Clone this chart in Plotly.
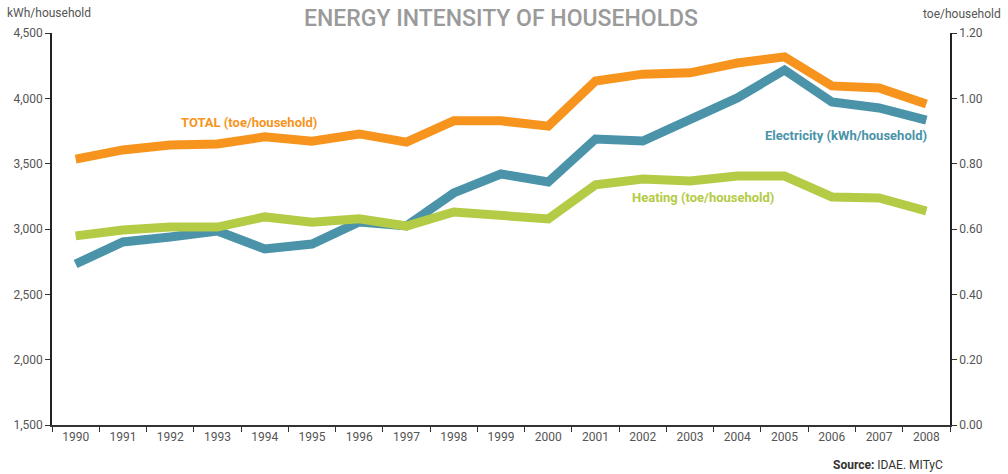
import plotly.graph_objects as go

years = [str(y) for y in range(1990, 2009)]
total_toe = [0.814, 0.842, 0.857, 0.860, 0.882, 0.869, 0.891, 0.866, 0.931, 0.931,
             0.915, 1.053, 1.074, 1.078, 1.108, 1.127, 1.038, 1.032, 0.983]
electricity_kwh = [2732, 2901, 2939, 2985, 2847, 2885, 3054, 3023, 3276, 3421,
                   3360, 3689, 3673, 3834, 4003, 4217, 3972, 3926, 3834]
heating_toe = [0.579, 0.597, 0.606, 0.606, 0.637, 0.621, 0.631, 0.609, 0.652, 0.643,
               0.631, 0.735, 0.753, 0.747, 0.762, 0.762, 0.698, 0.695, 0.655]

ORANGE = "#F7941D"
TEAL = "#4A93A8"
GREEN = "#B3CB45"
FONT = "Roboto"
GREY = "#555555"

fig = go.Figure()
fig.add_trace(go.Scatter(x=years, y=heating_toe, yaxis="y2", mode="lines",
                         line=dict(color=GREEN, width=9), name="Heating"))
fig.add_trace(go.Scatter(x=years, y=electricity_kwh, yaxis="y", mode="lines",
                         line=dict(color=TEAL, width=9), name="Electricity"))
fig.add_trace(go.Scatter(x=years, y=total_toe, yaxis="y2", mode="lines",
                         line=dict(color=ORANGE, width=9), name="TOTAL"))

fig.update_layout(
    width=1008, height=474,
    margin=dict(l=52, r=58, t=33, b=49, autoexpand=False),
    paper_bgcolor="white", plot_bgcolor="white",
    showlegend=False,
    font=dict(family=FONT, color=GREY, size=12),
    xaxis=dict(type="category", range=[-0.5, 18.5], showgrid=False, automargin=False,
               showline=True, linecolor="#333", linewidth=1.5,
               ticks="outside", tickson="boundaries", ticklen=5, tickcolor="#333",
               tickfont=dict(size=12, color=GREY)),
    yaxis=dict(range=[1500, 4500], dtick=500, tickformat=",", showgrid=False,
               automargin=False,
               zeroline=False, showline=True, linecolor="#222", linewidth=1.5,
               ticks="outside", ticklen=5, tickcolor="#333", ticklabelstandoff=0,
               tickfont=dict(size=12, color=GREY)),
    yaxis2=dict(range=[0, 1.2], dtick=0.2, tickformat=".2f", overlaying="y",
                automargin=False,
                side="right", showgrid=False, zeroline=False, showline=True,
                linecolor="#222", linewidth=1.5, ticks="outside", ticklen=5,
                tickcolor="#333", tickfont=dict(size=12, color=GREY)),
)

def note(text, x, y, xanchor="center", xshift=0, yshift=0, size=12, color=GREY, weight=None):
    f = dict(size=size, color=color)
    if weight:
        f["weight"] = weight
    fig.add_annotation(text=text, xref="paper", yref="paper", x=x, y=y,
                       xanchor=xanchor, yanchor="middle", xshift=xshift, yshift=yshift,
                       showarrow=False, font=f)

note("ENERGY INTENSITY OF HOUSEHOLDS", 0.5, 1, yshift=15, size=23, color="#9a9a9a", weight=500)
note("kWh/household", 0, 1, xanchor="left", xshift=-47, yshift=20)
note("toe/household", 1, 1, xanchor="right", xshift=53, yshift=19)
note("<b>Source:</b> IDAE. MITyC", 1, 0, xanchor="right", xshift=-5, yshift=-40, color="#333")
note("<b>TOTAL (toe/household)</b>", (249 - 52) / 898, (425 - 122) / 392, size=13, color=ORANGE)
note("<b>Electricity (kWh/household)</b>", (929 - 52) / 898, (425 - 135) / 392,
     xanchor="right", size=13, color=TEAL)
note("<b>Heating (toe/household)</b>", (703 - 52) / 898, (425 - 197) / 392, size=13, color=GREEN)

fig.write_html("out.html", config={"displayModeBar": False},
               post_script="document.body.style.margin='0';document.body.style.padding='0';")
